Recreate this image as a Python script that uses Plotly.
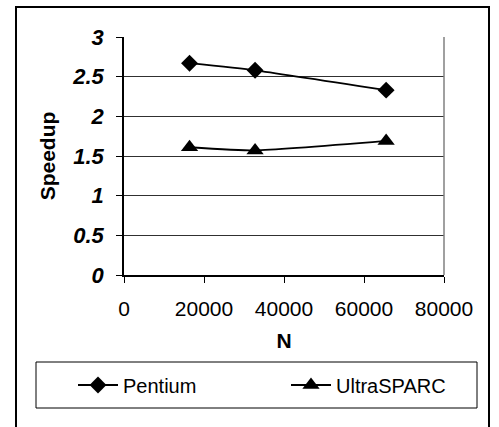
import plotly.graph_objects as go

n_values = [16384, 32768, 65536]
pentium = [2.67, 2.58, 2.33]
ultrasparc = [1.61, 1.57, 1.69]
series_names = ["Pentium", "UltraSPARC"]

W, H = 499, 427
L, R, T, B = 124, 444, 37, 275  # plot area in pixels

def px_x(p):
    return (p - L) / (R - L)

def px_y(p):
    return (B - p) / (B - T)

fig = go.Figure()
fig.add_trace(go.Scatter(
    x=n_values, y=pentium, name=series_names[0], mode="lines+markers",
    line=dict(color="black", width=1.8, shape="spline", smoothing=0.5),
    marker=dict(symbol="diamond", size=13, color="black"),
))
fig.add_trace(go.Scatter(
    x=n_values, y=ultrasparc, name=series_names[1], mode="lines+markers",
    line=dict(color="black", width=1.8, shape="spline", smoothing=0.5),
    marker=dict(symbol="triangle-up", size=15, color="black"),
))

font = "Arial, 'Liberation Sans', sans-serif"

fig.update_layout(
    width=W, height=H,
    margin=dict(l=L, r=W - R, t=T, b=H - B),
    paper_bgcolor="white", plot_bgcolor="white",
    font=dict(family=font, color="black", size=20),
    showlegend=True,
    legend=dict(
        orientation="h", x=px_x(82), y=px_y(385), xanchor="left", yanchor="middle",
        xref="paper", yref="paper",
        bgcolor="rgba(0,0,0,0)", borderwidth=0,
        font=dict(family=font, size=20, color="black"),
        entrywidth=158, itemwidth=40,
    ),
    xaxis=dict(
        range=[0, 80000], dtick=20000, tick0=0,
        showgrid=False, zeroline=False,
        showline=True, linecolor="black", linewidth=1.5,
        ticks="outside", ticklen=6, tickcolor="black",
        tickformat="d", ticklabelstandoff=8,
        tickfont=dict(family=font, size=21),
        title=dict(text="<b>N</b>", font=dict(family=font, size=21), standoff=14),
    ),
    yaxis=dict(
        range=[0, 3], dtick=0.5, tick0=0,
        showgrid=True, gridcolor="#303030", gridwidth=1,
        zeroline=False,
        showline=True, linecolor="black", linewidth=1.5,
        ticks="outside", ticklen=6, tickcolor="black",
        ticklabelstandoff=8,
        tickfont=dict(family=font, size=22, weight="bold", style="italic"),
        title=dict(text="<b>Speedup</b>", font=dict(family=font, size=21), standoff=11),
    ),
    shapes=[
        dict(type="line", xref="paper", yref="paper", x0=1, x1=1, y0=0, y1=1,
             line=dict(color="#808080", width=1.5)),
        dict(type="rect", xref="paper", yref="paper",
             x0=px_x(16), x1=px_x(489), y0=px_y(445), y1=px_y(7),
             line=dict(color="black", width=2)),
        dict(type="rect", xref="paper", yref="paper",
             x0=px_x(36), x1=px_x(477), y0=px_y(408), y1=px_y(362),
             line=dict(color="black", width=1)),
    ],
)

fig.write_html("out.html")
